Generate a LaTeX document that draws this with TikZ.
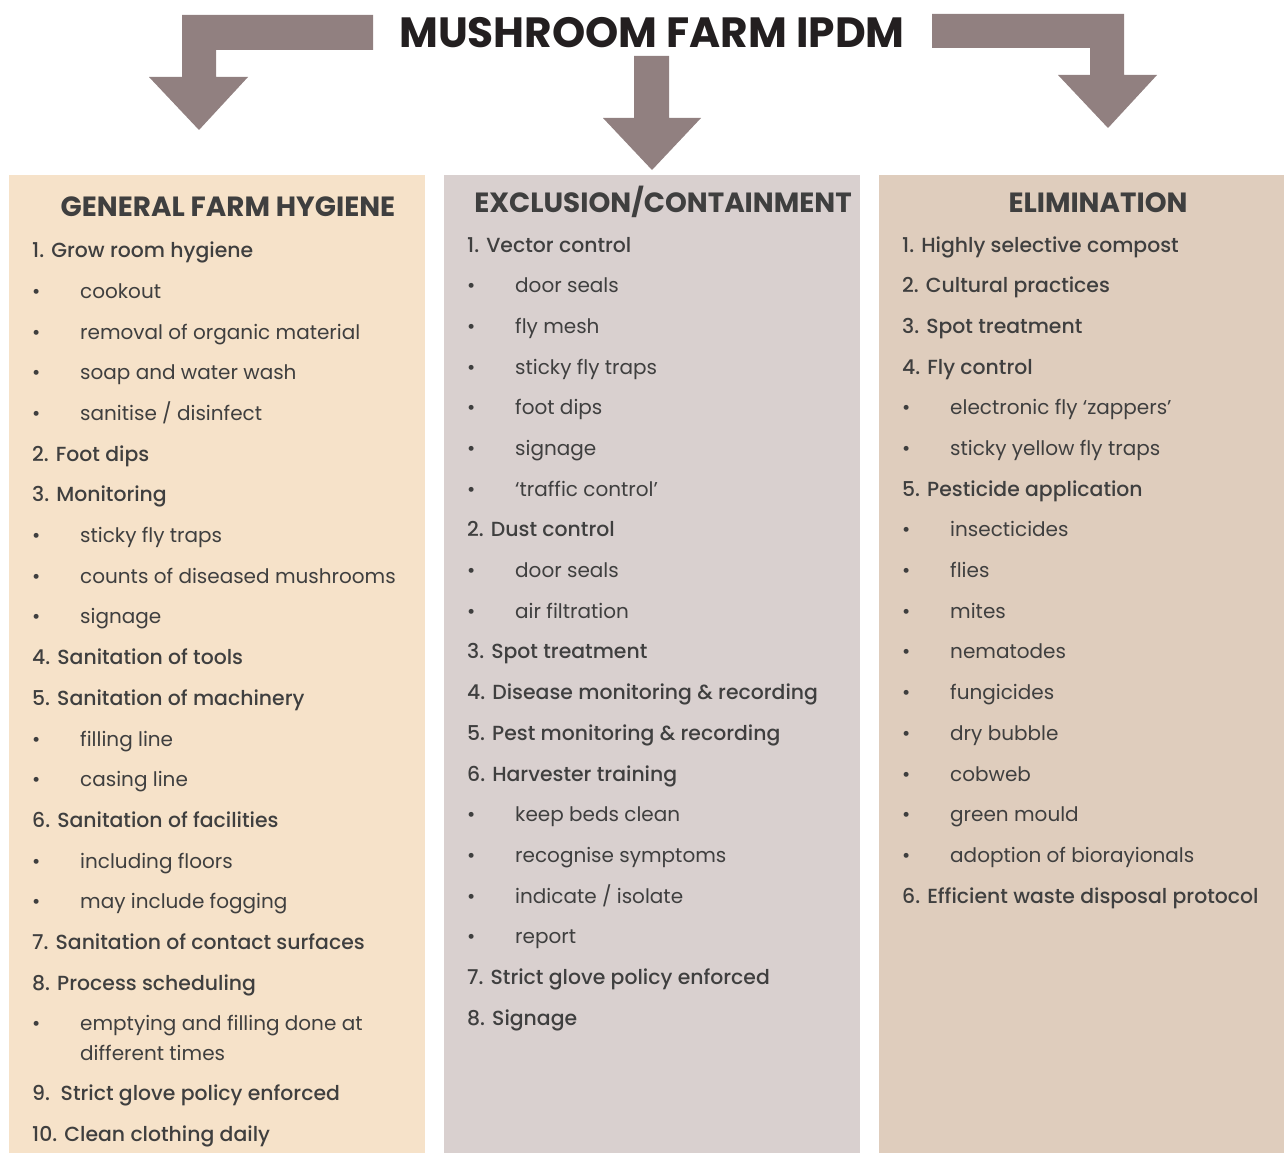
\documentclass[tikz,border=0pt]{standalone}
\usepackage{fontspec}
\setmainfont{Poppins}
\IfFontExistsTF{Poppins Medium}{\newfontfamily\medfont{Poppins Medium}}{\newcommand\medfont{\bfseries}}
\definecolor{arrowgrey}{RGB}{145,128,128}
\definecolor{hygienebg}{RGB}{246,226,201}
\definecolor{exclusionbg}{RGB}{217,208,207}
\definecolor{elimbg}{RGB}{223,205,189}
\definecolor{textgrey}{RGB}{63,63,63}
\definecolor{titlegrey}{RGB}{35,31,32}

\begin{document}
\begin{tikzpicture}[x=1pt, y=-1pt,
    panel/.style={anchor=north west, draw=none, inner sep=0pt, minimum height=978pt},
    blockarrow/.style={fill=arrowgrey, draw=none},
    title/.style={anchor=base, inner sep=0pt, text=titlegrey, font=\bfseries\fontsize{42.3}{50}\selectfont},
    head/.style={anchor=base, inner sep=0pt, text=textgrey, font=\bfseries\fontsize{27.8}{32}\selectfont},
    num/.style={anchor=base west, inner sep=0pt, text=textgrey, font=\medfont\fontsize{20.4}{30}\selectfont},
    sub/.style={anchor=base west, inner sep=0pt, text=textgrey, font=\fontsize{20}{30}\selectfont,
        execute at begin node={\makebox[48pt][l]{\textbullet}}}]

    \useasboundingbox (0,0) rectangle (1284,1153);

    % three columns
    \node[panel, fill=hygienebg, minimum width=416pt] (gfh) at (9,175) {};
    \node[panel, fill=exclusionbg, minimum width=416pt] (exc) at (444,175) {};
    \node[panel, fill=elimbg, minimum width=405pt] (elim) at (879,175) {};

    % title and arrows
    \node[title] (ipdm) at (652,48) {MUSHROOM FARM IPDM};
    \fill[blockarrow] (373,15) -- (182,15) -- (182,77) -- (149,77) -- (199,130)
        -- (248,77) -- (216,77) -- (216,50) -- (373,50) -- cycle;
    \fill[blockarrow] (634,56) -- (669,56) -- (669,118) -- (701,118) -- (652,170)
        -- (603,118) -- (634,118) -- cycle;
    \fill[blockarrow] (932,14) -- (1124,14) -- (1124,75) -- (1157,75) -- (1108,128)
        -- (1058,75) -- (1090,75) -- (1090,48) -- (932,48) -- cycle;

    % headings
    \node[head] (gfhhead) at (228,216) {GENERAL FARM HYGIENE};
    \node[head] (exchead) at (663,212) {EXCLUSION/CONTAINMENT};
    \node[head] (elimhead) at (1098,212) {ELIMINATION};

    % general farm hygiene
    \foreach \y/\k/\txt [count=\i] in {
        257/num/{1. Grow room hygiene}, 298/sub/{cookout},
        339/sub/{removal of organic material}, 379/sub/{soap and water wash},
        420/sub/{sanitise / disinfect}, 461/num/{2. Foot dips},
        501/num/{3. Monitoring}, 542/sub/{sticky fly traps},
        583/sub/{counts of diseased mushrooms}, 623/sub/{signage},
        664/num/{4. Sanitation of tools}, 705/num/{5. Sanitation of machinery},
        746/sub/{filling line}, 786/sub/{casing line},
        827/num/{6. Sanitation of facilities}, 868/sub/{including floors},
        908/sub/{may include fogging}, 949/num/{7. Sanitation of contact surfaces},
        990/num/{8. Process scheduling},
        1030/sub/{\parbox[t]{320pt}{emptying and filling done at\\different times}},
        1100/num/{9.\ \ Strict glove policy enforced}, 1141/num/{10. Clean clothing daily}}
        \node[\k] (gfh\i) at (32,\y) {\txt};

    % exclusion / containment
    \foreach \y/\k/\txt [count=\i] in {
        252/num/{1. Vector control}, 292/sub/{door seals}, 333/sub/{fly mesh},
        374/sub/{sticky fly traps}, 414/sub/{foot dips}, 455/sub/{signage},
        496/sub/{‘traffic control’}, 536/num/{2. Dust control},
        577/sub/{door seals}, 618/sub/{air filtration},
        658/num/{3. Spot treatment}, 699/num/{4. Disease monitoring \& recording},
        740/num/{5. Pest monitoring \& recording}, 781/num/{6. Harvester training},
        821/sub/{keep beds clean}, 862/sub/{recognise symptoms},
        903/sub/{indicate / isolate}, 943/sub/{report},
        984/num/{7. Strict glove policy enforced}, 1025/num/{8. Signage}}
        \node[\k] (exc\i) at (467,\y) {\txt};

    % elimination
    \foreach \y/\k/\txt [count=\i] in {
        252/num/{1. Highly selective compost}, 292/num/{2. Cultural practices},
        333/num/{3. Spot treatment}, 374/num/{4. Fly control},
        414/sub/{electronic fly ‘zappers’}, 455/sub/{sticky yellow fly traps},
        496/num/{5. Pesticide application}, 536/sub/{insecticides},
        577/sub/{flies}, 618/sub/{mites}, 658/sub/{nematodes},
        699/sub/{fungicides}, 740/sub/{dry bubble}, 781/sub/{cobweb},
        821/sub/{green mould}, 862/sub/{adoption of biorayionals},
        903/num/{6. Efficient waste disposal protocol}}
        \node[\k] (elim\i) at (902,\y) {\txt};
\end{tikzpicture}
\end{document}
